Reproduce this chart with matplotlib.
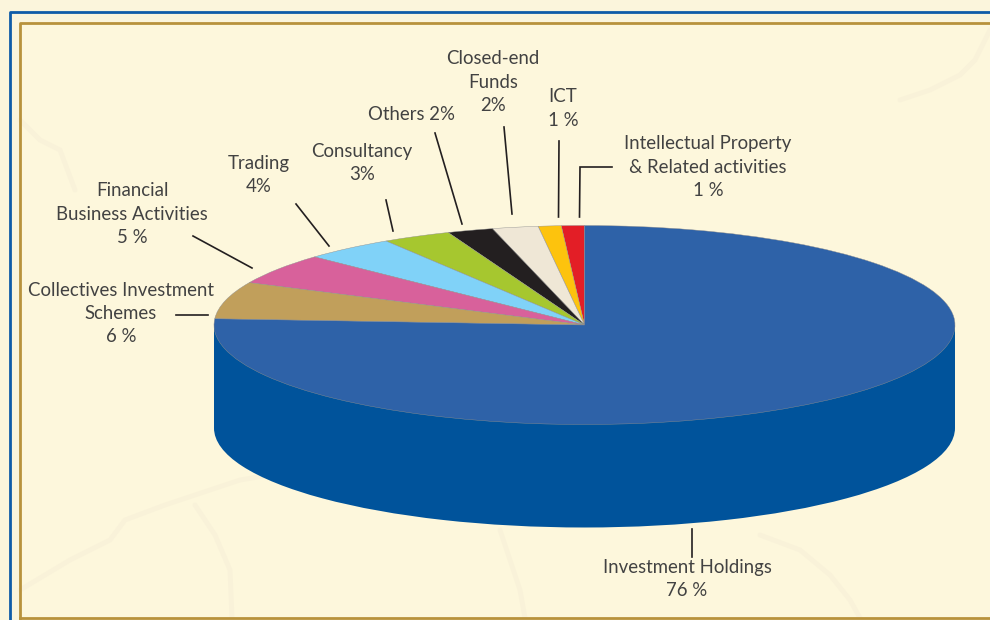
import matplotlib
matplotlib.use('Agg')
import matplotlib.pyplot as plt

# slices, counter clockwise from 12 o'clock
sectors = ['Intellectual Property & Related activities', 'ICT', 'Closed-end Funds', 'Others',
           'Consultancy', 'Trading', 'Financial Business Activities',
           'Collectives Investment Schemes', 'Investment Holdings']
shares = [1, 1, 2, 2, 3, 4, 5, 6, 76]
colors = ['#e31e26', '#fdc30d', '#efe7d6', '#231f20', '#a6c72f', '#80d2f8', '#d8619b', '#c19f5b', '#2e62a8']
side_color = '#00539b'

# label text: lines, centre x, first line y (pixels)
labels = [
    (['Closed-end', 'Funds', '2%'], 493, 59),
    (['ICT', '1 %'], 563, 97),
    (['Intellectual Property', '& Related activities', '1 %'], 708, 144),
    (['Others 2%'], 412, 114),
    (['Consultancy', '3%'], 362, 151),
    (['Trading', '4%'], 259, 163),
    (['Financial', 'Business Activities', '5 %'], 132, 191),
    (['Collectives Investment', 'Schemes', '6 %'], 121, 290),
    (['Investment Holdings', '76 %'], 687, 567),
]
leaders = [
    ([176, 208], [315, 315]),
    ([193, 252], [236, 268]),
    ([296, 329], [204, 246]),
    ([386, 393], [200, 231]),
    ([435, 462], [133, 224]),
    ([504, 512], [127, 214]),
    ([559, 558.5], [141, 217]),
    ([612, 580, 579.5], [167, 167, 217]),
    ([692, 692], [529, 557]),
]
# faint map outlines in the paper background
map_lines = [
    ([20, 70, 110, 125, 165, 240, 300], [590, 560, 540, 520, 505, 480, 470]),
    ([195, 215, 230, 232], [505, 535, 570, 618]),
    ([990, 975, 960, 930, 900], [30, 60, 75, 90, 100]),
    ([20, 40, 60, 75], [120, 140, 150, 190]),
    ([760, 800, 830, 850, 860], [535, 550, 575, 600, 618]),
    ([500, 510, 520, 525], [530, 560, 590, 618]),
]

cx, cy, rx, ry, depth = 584.5, 325, 370.5, 99.5, 103
W, H = 990, 620

plt.rcParams['font.family'] = ['Lato', 'DejaVu Sans']
fig = plt.figure(figsize=(9.9, 6.2), dpi=100, facecolor='#fbf5dc')

# background, frame and text live in pixel coordinates
bg = fig.add_axes([0, 0, 1, 1], zorder=0)
bg.set_xlim(0, W)
bg.set_ylim(H, 0)
bg.axis('off')
bg.fill_between([20, W], 23, 618, color='#fdf7dc', lw=0)
for xs, ys in map_lines:
    bg.plot(xs, ys, color='#f9f2d9', lw=3.5, solid_capstyle='round')
bg.plot([10.3, 10.3, W], [H, 12, 12], color='#0f5ca8', lw=2)
bg.plot([20.3, 20.3, W], [618, 23.3, 23.3], color='#b8923c', lw=2)
bg.plot([20.3, W], [618, 618], color='#b8923c', lw=2)

# pie axes: same canvas, units stretched so the circle becomes the ellipse
ax = fig.add_axes([0, 0, 1, 1], zorder=1)
ax.pie([1], colors=[side_color], center=(0, -depth / ry), startangle=90)
ax.fill_between([-1, 1], 0, -depth / ry, color=side_color, lw=0)
ax.pie(shares, colors=colors, startangle=90, counterclock=True,
       wedgeprops=dict(edgecolor='#8f8f8f', linewidth=0.3))
ax.set_aspect('auto')
ax.set_xlim(-cx / rx, (W - cx) / rx)
ax.set_ylim((cy - H) / ry, cy / ry)
ax.axis('off')

# overlay for labels and leader lines
top = fig.add_axes([0, 0, 1, 1], zorder=2)
top.set_xlim(0, W)
top.set_ylim(H, 0)
top.axis('off')
for xs, ys in leaders:
    top.plot(xs, ys, color='#231f20', lw=1.2, solid_joinstyle='miter')
for lines, x, y in labels:
    for i, line in enumerate(lines):
        top.text(x, y + i * 23.3, line, ha='center', va='center', fontsize=13.4, color='#424242')

fig.savefig('out.png', dpi=100)
